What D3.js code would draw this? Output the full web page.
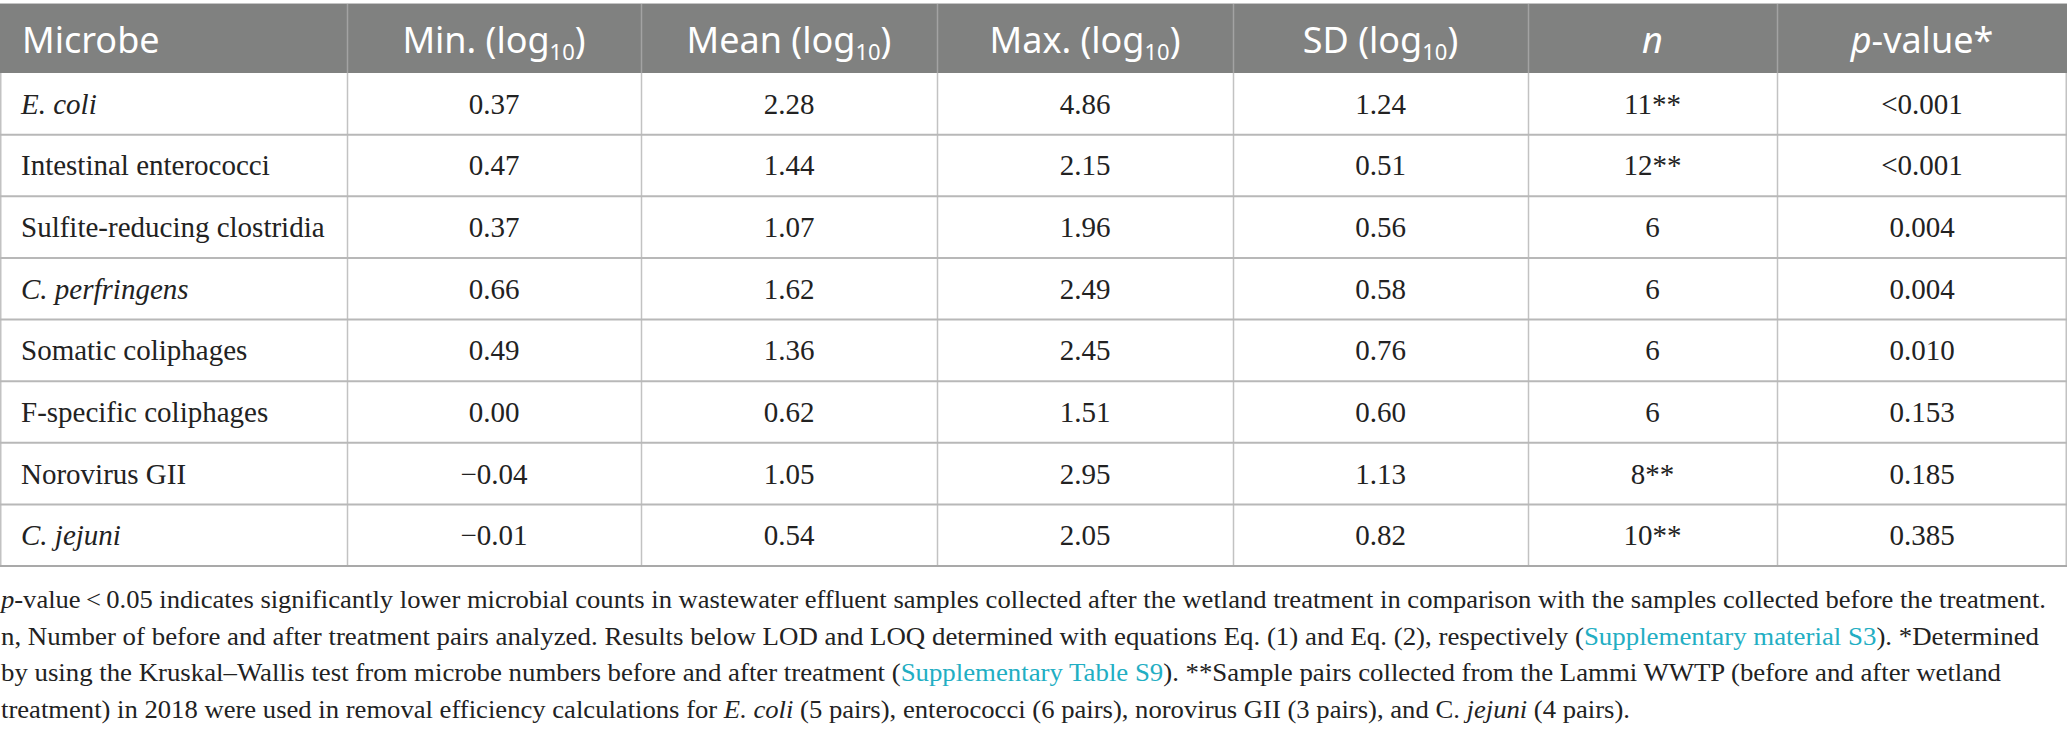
<!DOCTYPE html>
<html><head><meta charset="utf-8">
<script src="https://cdn.jsdelivr.net/npm/d3@7"></script>
<style>
html,body{margin:0;padding:0;background:#fff;}
svg{display:block;}
</style></head>
<body>
<script>
// ---- data ----
const microbes = ["E. coli","Intestinal enterococci","Sulfite-reducing clostridia","C. perfringens","Somatic coliphages","F-specific coliphages","Norovirus GII","C. jejuni"];
const italicMicrobes = ["E. coli","C. perfringens","C. jejuni"];
const minVals  = ["0.37","0.47","0.37","0.66","0.49","0.00","\u22120.04","\u22120.01"];
const meanVals = ["2.28","1.44","1.07","1.62","1.36","0.62","1.05","0.54"];
const maxVals  = ["4.86","2.15","1.96","2.49","2.45","1.51","2.95","2.05"];
const sdVals   = ["1.24","0.51","0.56","0.58","0.76","0.60","1.13","0.82"];
const nVals    = ["11**","12**","6","6","6","6","8**","10**"];
const pVals    = ["<0.001","<0.001","0.004","0.004","0.010","0.153","0.185","0.385"];
const headers  = [
  [{t:"Microbe"}],
  [{t:"Min. (log"},{t:"10",sub:true},{t:")"}],
  [{t:"Mean (log"},{t:"10",sub:true},{t:")"}],
  [{t:"Max. (log"},{t:"10",sub:true},{t:")"}],
  [{t:"SD (log"},{t:"10",sub:true},{t:")"}],
  [{t:"n",it:true}],
  [{t:"p",it:true},{t:"-value*"}]
];
const footnotes = [
  [{t:"p",it:true},{t:"-value\u2009<\u20090.05 indicates significantly lower microbial counts in wastewater effluent samples collected after the wetland treatment in comparison with the samples collected before the treatment."}],
  [{t:"n, Number of before and after treatment pairs analyzed. Results below LOD and LOQ determined with equations Eq. (1) and Eq. (2), respectively ("},{t:"Supplementary material S3",link:true},{t:"). *Determined"}],
  [{t:"by using the Kruskal\u2013Wallis test from microbe numbers before and after treatment ("},{t:"Supplementary Table S9",link:true},{t:"). **Sample pairs collected from the Lammi WWTP (before and after wetland"}],
  [{t:"treatment) in 2018 were used in removal efficiency calculations for "},{t:"E. coli",it:true},{t:" (5 pairs), enterococci (6 pairs), norovirus GII (3 pairs), and C. "},{t:"jejuni",it:true},{t:" (4 pairs)."}]
];

// ---- layout ----
const W = 2067, H = 731;
const colWidths = [347, 294, 296, 296, 295, 249, 290];
const colEdges = [0, ...d3.cumsum(colWidths)];
const headTop = 4, headBottom = 73, tableBottom = 566;
const footWidths = [2045, 2038, 2000, 1629];
const footBaseline0 = 608, footStep = 36.5;

const columns = [microbes, minVals, meanVals, maxVals, sdVals, nVals, pVals];

const svg = d3.select("body").append("svg").attr("width", W).attr("height", H);

const y = d3.scaleBand().domain(microbes).range([headBottom, tableBottom]);

// header
svg.append("rect").attr("x",0).attr("y",headTop-1).attr("width",W).attr("height",1.5).attr("fill","#c4c4c4");
svg.append("rect").attr("x",0).attr("y",headTop).attr("width",W).attr("height",headBottom-headTop).attr("fill","#808180");
svg.selectAll("line.hsep").data(d3.range(1,7)).join("line")
  .attr("x1",i=>colEdges[i]+0.5).attr("x2",i=>colEdges[i]+0.5)
  .attr("y1",headTop).attr("y2",headBottom).attr("stroke","#a3a3a3").attr("stroke-width",1.5);

const ht = svg.selectAll("text.head").data(headers).join("text")
  .attr("class","head")
  .attr("x",(d,i)=> i===0 ? 22 : (colEdges[i]+colEdges[i+1])/2)
  .attr("y",53)
  .attr("text-anchor",(d,i)=> i===0 ? "start" : "middle")
  .attr("font-family","'Noto Sans', sans-serif")
  .attr("font-size",36)
  .attr("fill","#ffffff");
ht.each(function(parts){
  const t = d3.select(this);
  let shifted = false;
  parts.forEach(p=>{
    const s = t.append("tspan").text(p.t);
    if (p.it) s.attr("font-style","italic");
    if (p.sub) { s.attr("font-size",22).attr("dy",7); shifted = true; }
    else if (shifted) { s.attr("dy",-7); shifted = false; }
  });
});

// body grid
svg.selectAll("line.vgrid").data(d3.range(0,8)).join("line")
  .attr("x1",i=> i===7 ? W-0.75 : (i===0 ? 0.75 : colEdges[i]+0.5))
  .attr("x2",i=> i===7 ? W-0.75 : (i===0 ? 0.75 : colEdges[i]+0.5))
  .attr("y1",headBottom).attr("y2",tableBottom)
  .attr("stroke","#c2c2c2").attr("stroke-width",1.5);
svg.selectAll("line.hgrid").data(microbes.slice(1)).join("line")
  .attr("x1",0).attr("x2",W)
  .attr("y1",d=>y(d)).attr("y2",d=>y(d))
  .attr("stroke","#b8b8b8").attr("stroke-width",2);
svg.append("line").attr("x1",0).attr("x2",W).attr("y1",tableBottom).attr("y2",tableBottom)
  .attr("stroke","#a9a9a9").attr("stroke-width",2);

// body text
columns.forEach((vals,ci)=>{
  svg.selectAll("text.c"+ci).data(vals).join("text")
    .attr("class","c"+ci)
    .attr("x", ci===0 ? 21 : (colEdges[ci]+colEdges[ci+1])/2)
    .attr("y",(d,ri)=> y(microbes[ri]) + y.bandwidth()/2 + 10)
    .attr("text-anchor", ci===0 ? "start" : "middle")
    .attr("font-family","'Liberation Serif', 'Times New Roman', serif")
    .attr("font-size",29)
    .attr("fill","#222")
    .attr("font-style",(d)=> ci===0 && italicMicrobes.includes(d) ? "italic" : "normal")
    .text(d=>d);
});

// footnotes
const ft = svg.selectAll("text.foot").data(footnotes).join("text")
  .attr("class","foot")
  .attr("x",1)
  .attr("y",(d,i)=> footBaseline0 + i*footStep)
  .attr("font-family","'Liberation Serif', 'Times New Roman', serif")
  .attr("font-size",25)
  .attr("fill","#222")
  .attr("textLength",(d,i)=>footWidths[i])
  .attr("lengthAdjust","spacingAndGlyphs");
ft.each(function(parts){
  const t = d3.select(this);
  parts.forEach(p=>{
    const s = t.append("tspan").text(p.t);
    if (p.it) s.attr("font-style","italic");
    if (p.link) s.attr("fill","#22aec3");
  });
});
</script>
</body></html>
